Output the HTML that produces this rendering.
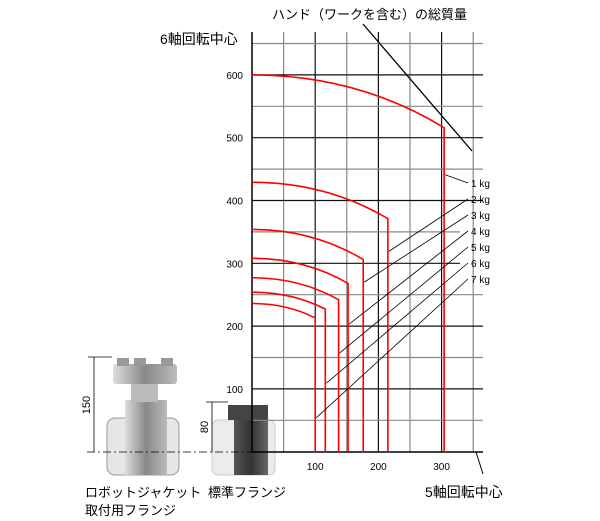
<!DOCTYPE html>
<html><head><meta charset="utf-8"><style>
body{margin:0;background:#fff;width:600px;height:521px;overflow:hidden}
svg{display:block;font-family:"Liberation Sans","Noto Sans CJK JP",sans-serif}
</style></head><body>
<svg id="c" width="600" height="521">
<g>
<defs><linearGradient id="g1" x1="0" x2="1"><stop offset="0" stop-color="#ddd"/><stop offset="0.5" stop-color="#888"/><stop offset="1" stop-color="#bbb"/></linearGradient>
<linearGradient id="g2" x1="0" x2="1"><stop offset="0" stop-color="#555"/><stop offset="0.5" stop-color="#333"/><stop offset="1" stop-color="#666"/></linearGradient></defs>
<rect x="107" y="418" width="72" height="57" rx="8" fill="#e6e6e6" stroke="#999"/>
<rect x="125" y="400" width="42" height="75" fill="url(#g1)"/>
<rect x="131" y="384" width="27" height="18" fill="#bbb"/>
<rect x="113" y="364" width="64" height="20" rx="3" fill="url(#g1)"/>
<rect x="117" y="358" width="12" height="8" fill="#999"/><rect x="134" y="358" width="12" height="8" fill="#999"/><rect x="161" y="358" width="12" height="8" fill="#999"/>
</g>
<g>
<rect x="212" y="420" width="63" height="55" rx="6" fill="#ececec" stroke="#ccc"/>
<rect x="234" y="418" width="34" height="57" fill="url(#g2)"/>
<rect x="228" y="405" width="40" height="15" fill="#444"/>
</g>
<g id="grid"></g>
<g id="marks"></g>
<g stroke="#000" stroke-width="0.8" fill="none">
<line x1="87" y1="452" x2="252" y2="452" stroke-dasharray="8,3,2,3"/>
<line x1="88" y1="357" x2="112" y2="357"/><line x1="94" y1="357" x2="94" y2="452"/>
<line x1="206" y1="402" x2="228" y2="402"/><line x1="212" y1="402" x2="212" y2="452"/>
</g>
<text x="90" y="405" font-size="11" transform="rotate(-90 90 405)" text-anchor="middle">150</text>
<text x="208" y="427" font-size="11" transform="rotate(-90 208 427)" text-anchor="middle">80</text>
<text x="160" y="44" font-size="14">6軸回転中心</text>
<text x="272" y="19" font-size="13">ハンド（ワークを含む）の総質量</text>
<text x="425" y="497" font-size="14">5軸回転中心</text>
<text x="85" y="497" font-size="13">ロボットジャケット</text>
<text x="85" y="515" font-size="13">取付用フランジ</text>
<text x="208" y="497" font-size="13">標準フランジ</text>
</svg>
<script>
const xTicks=[100,200,300];
const yTicks=[100,200,300,400,500,600];
const kgLabels=["1 kg","2 kg","3 kg","4 kg","5 kg","6 kg","7 kg"];
const startY=[600,429,354,308,277,254,236];
const cornerX=[304,215,176,152,137,116,100];
const cornerY=[516,371,306,268,242,227,213];
const leaderVal=[441,319,270,203,157,109,54];
const X=v=>252+v*0.632, Y=v=>451.7-v*0.628;
const NS="http://www.w3.org/2000/svg";
function mk(p,t,a){const e=document.createElementNS(NS,t);for(const k in a)e.setAttribute(k,a[k]);p.appendChild(e);return e;}
const grid=document.getElementById('grid'), marks=document.getElementById('marks');
for(let v=50;v<=350;v+=50){const l=mk(grid,'line',{x1:X(v),x2:X(v),y1:32,y2:452,stroke:v%100?'#888':'#111','stroke-width':1.2});

}
for(let v=50;v<=650;v+=50){const l=mk(grid,'line',{x1:252,x2:(v==300||v==350)?460:483,y1:Y(v),y2:Y(v),stroke:v%100?'#888':'#111','stroke-width':1.2});

}
const ax=mk(grid,'line',{x1:252,x2:252,y1:32,y2:452,stroke:'#000','stroke-width':1.5});


const bx=mk(grid,'line',{x1:252,x2:483,y1:452,y2:452,stroke:'#000','stroke-width':1.5});


const ex=mk(grid,'line',{x1:476,x2:483,y1:452,y2:474,stroke:'#000','stroke-width':1});


xTicks.forEach(v=>{const t=mk(grid,'text',{x:X(v),y:470,'font-size':10,'text-anchor':'middle'});t.textContent=v;

});
yTicks.forEach(v=>{const t=mk(grid,'text',{x:243,y:Y(v)+4,'font-size':10,'text-anchor':'end'});t.textContent=v;

});
const hl=mk(marks,'line',{x1:363,y1:24,x2:472,y2:151,stroke:'#000','stroke-width':1.3});


kgLabels.forEach((lab,i)=>{
 const x0=252,y0=Y(startY[i]),xc=X(cornerX[i]),yc=Y(cornerY[i]);
 const d=`M${x0},${y0} Q${x0+(xc-x0)*0.55},${y0} ${xc},${yc} L${xc},452`;
 const p=mk(marks,'path',{d:d,fill:'none',stroke:'#f00','stroke-width':1.6});
 
 
 const ly=183+i*16;
 const l=mk(marks,'line',{x1:468,y1:ly,x2:xc+1,y2:Y(leaderVal[i]),stroke:'#000','stroke-width':0.8});
 
 
 const t=mk(marks,'text',{x:471,y:ly+4,'font-size':10});t.textContent=lab;
 
 
});
</script>
</body></html>
